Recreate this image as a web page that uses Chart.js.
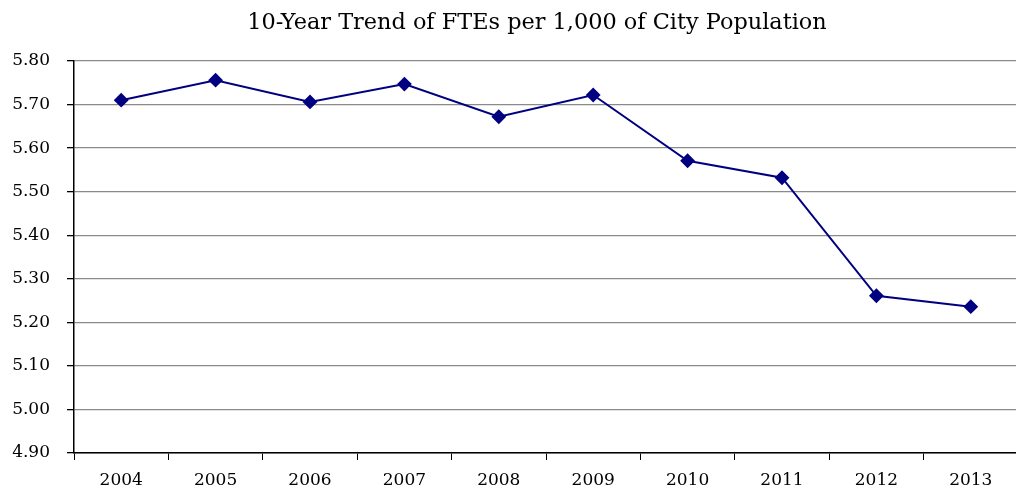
<!DOCTYPE html>
<html><head><meta charset="utf-8">
<script src="https://cdn.jsdelivr.net/npm/chart.js@4/dist/chart.umd.min.js"></script>
<style>html,body{margin:0;padding:0;background:#fff;overflow:hidden;width:1016px;height:492px}#w{width:1016px;height:492px;position:relative;overflow:hidden}#c{position:absolute;left:0;top:0;display:block}</style>
</head><body>
<div id="w"><canvas id="c" width="1026" height="492" style="width:1026px;height:492px"></canvas></div>
<script>
const title = "10-Year Trend of FTEs per 1,000 of City Population";
const years = ["2004","2005","2006","2007","2008","2009","2010","2011","2012","2013"];
const ftesPer1000 = [5.71, 5.756, 5.706, 5.747, 5.672, 5.722, 5.571, 5.532, 5.261, 5.236];
const yMin = 4.9, yMax = 5.8, yStep = 0.1;

const serif = "'DejaVu Serif', 'Liberation Serif', serif";
const titlePlugin = {
  id: 'ttl',
  afterDraw(chart) {
    const ctx = chart.ctx;
    ctx.save();
    ctx.font = "22.4px " + serif;
    ctx.fillStyle = '#000';
    ctx.textAlign = 'center';
    ctx.textBaseline = 'alphabetic';
    ctx.fillText(title, 537, 29);
    ctx.restore();
  }
};
const c = new Chart(document.getElementById('c'), {
  type: 'line',
  data: { labels: years, datasets: [{
    data: ftesPer1000,
    borderColor: '#000080', backgroundColor: '#000080',
    borderWidth: 2, pointStyle: 'rectRot', pointRadius: 6, pointHoverRadius: 6,
    tension: 0, fill: false
  }]},
  plugins: [titlePlugin],
  options: {
    responsive: false, animation: false,
    layout: { padding: { top: 61, right: 2, left: 0, bottom: 0 } },
    plugins: { legend: { display: false }, tooltip: { enabled: false }, title: { display: false } },
    scales: {
      x: {
        offset: true,
        grid: { offset: true, drawOnChartArea: false, tickLength: 7, tickColor: '#000', tickWidth: 1 },
        border: { color: '#000', width: 1.5 },
        ticks: { color: '#000', font: { family: serif, size: 17 }, padding: 10, maxRotation: 0 },
        afterFit: s => { s.height = 39; s.paddingLeft = 0; s.paddingRight = 0; }
      },
      y: {
        min: yMin, max: yMax,
        grid: { color: '#8a8a8a', lineWidth: 1.3, tickLength: 7, tickColor: '#000' },
        border: { color: '#000', width: 1.5 },
        ticks: { stepSize: yStep, color: '#000', font: { family: serif, size: 17 }, padding: 17,
          callback: v => Number(v).toFixed(2) },
        afterFit: s => { s.width = 74; s.paddingTop = 0; s.paddingBottom = 0; }
      }
    }
  }
});
</script>
</body></html>
